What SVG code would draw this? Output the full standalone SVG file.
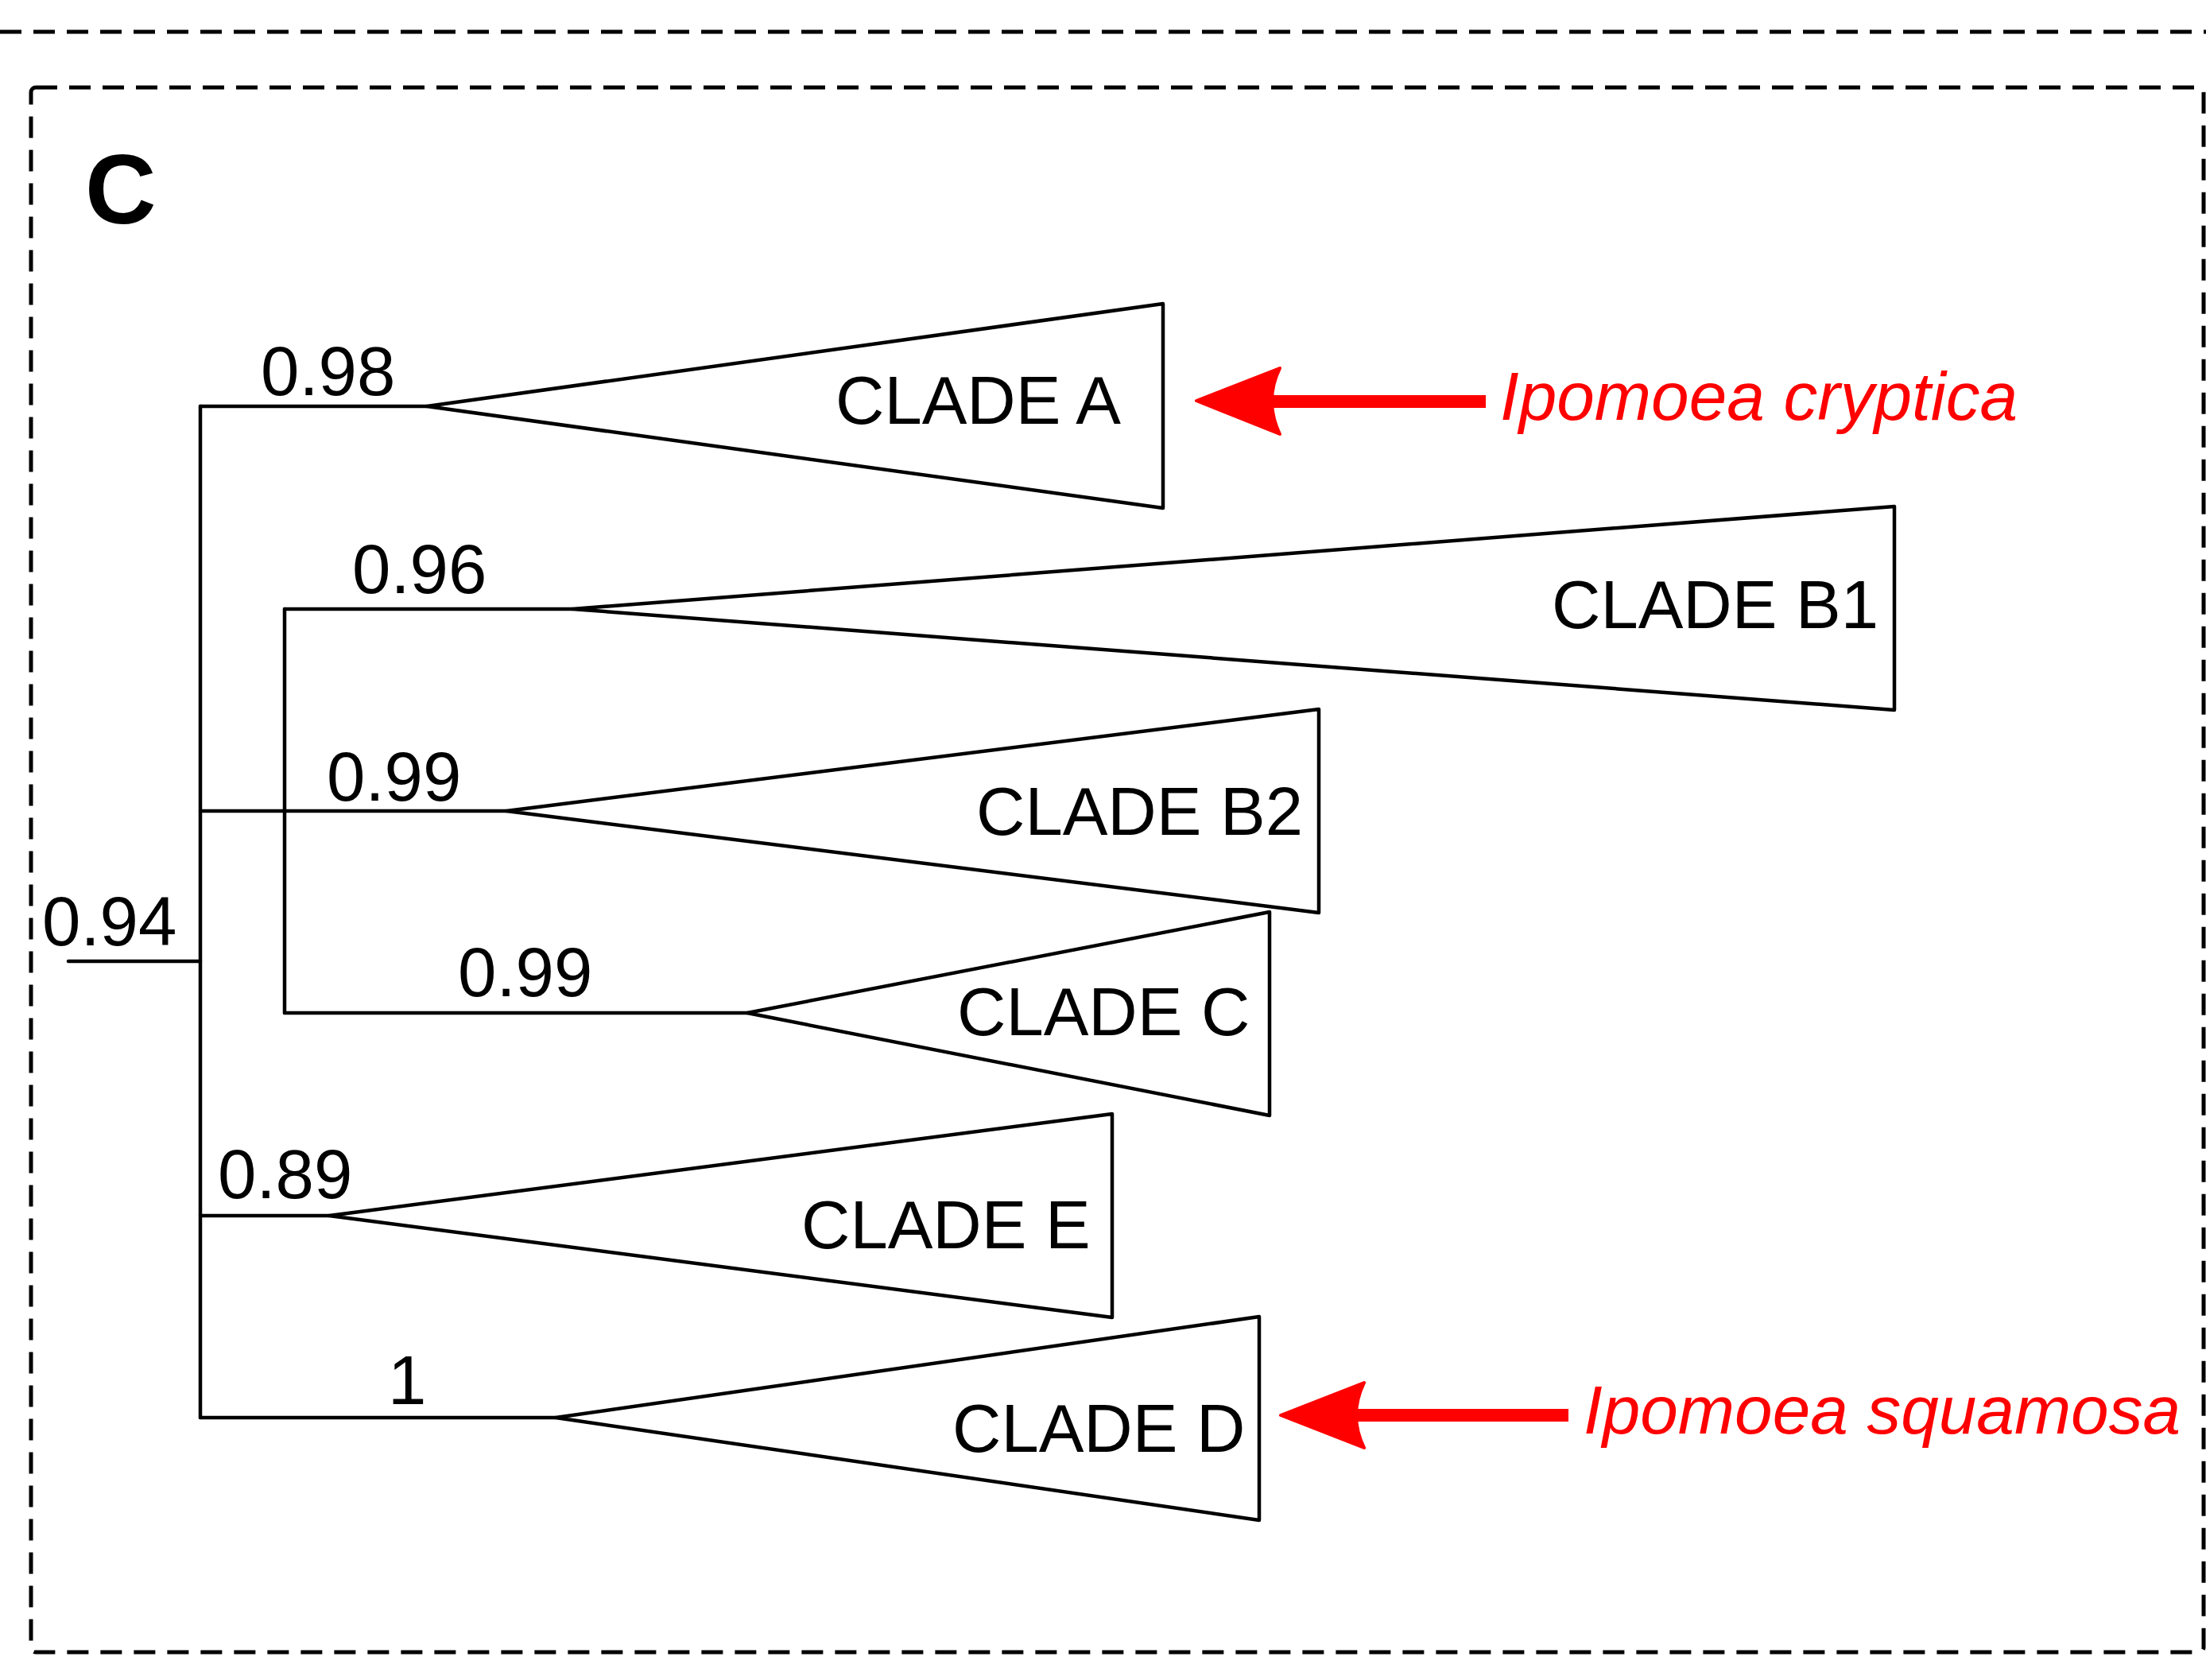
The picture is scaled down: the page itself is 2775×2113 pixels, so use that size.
<svg xmlns="http://www.w3.org/2000/svg" width="2775" height="2113" viewBox="0 0 2775 2113">
  <style>
    .frame { fill: none; stroke: #000; stroke-width: 5; stroke-dasharray: 27 15; }
    .branch { fill: none; stroke: #000; stroke-width: 4.5; stroke-linecap: round; stroke-linejoin: miter; }
    .clade { fill: #fff; stroke: #000; stroke-width: 4.5; stroke-linejoin: round; }
    .clade-label { font-family: "Liberation Sans", Arial, sans-serif; font-size: 85px; fill: #000; }
    .support { font-family: "Liberation Sans", Arial, sans-serif; font-size: 87px; fill: #000; }
    .panel { font-family: "Liberation Sans", Arial, sans-serif; font-size: 124px; font-weight: bold; fill: #000; }
    .species { font-family: "Liberation Sans", Arial, sans-serif; font-size: 85.5px; font-style: italic; fill: #ff0000; }
    .pointer { fill: #ff0000; stroke: #ff0000; stroke-width: 4; stroke-linejoin: round; }
  </style>

  <rect width="2775" height="2113" fill="#fff"/>

  <!-- panel frames -->
  <line class="frame" x1="0" y1="40" x2="2775" y2="40"/>
  <rect class="frame" x="39" y="110" width="2733" height="1968" rx="6"/>

  <text class="panel" x="107" y="281">C</text>

  <!-- tree branches -->
  <g id="connectors">
    <path class="branch" d="M86 1209 H252" stroke-width="5.5"/>
    <path class="branch" d="M252 511 V1783"/>
    <path class="branch" d="M252 511 H537"/>
    <path class="branch" d="M358 766 V1274"/>
    <path class="branch" d="M358 766 H720"/>
    <path class="branch" d="M252 1020 H637"/>
    <path class="branch" d="M358 1274 H940"/>
    <path class="branch" d="M252 1529 H414"/>
    <path class="branch" d="M252 1783 H699"/>
  </g>

  <!-- support values -->
  <g id="support-values">
    <text class="support" x="53" y="1189">0.94</text>
    <text class="support" x="328" y="497">0.98</text>
    <text class="support" x="443" y="746">0.96</text>
    <text class="support" x="411" y="1007">0.99</text>
    <text class="support" x="576" y="1253">0.99</text>
    <text class="support" x="274" y="1507">0.89</text>
    <text class="support" x="488" y="1766">1</text>
  </g>

  <!-- collapsed clades -->
  <g id="clade-a">
    <polygon class="clade" points="537,511 1463,382 1463,639"/>
    <text class="clade-label" x="1051" y="533">CLADE A</text>
  </g>
  <g id="clade-b1">
    <polygon class="clade" points="720,766 2383,637 2383,893"/>
    <text class="clade-label" x="1952" y="790">CLADE B1</text>
  </g>
  <g id="clade-b2">
    <polygon class="clade" points="637,1020 1659,892 1659,1148"/>
    <text class="clade-label" x="1228" y="1050">CLADE B2</text>
  </g>
  <g id="clade-c">
    <polygon class="clade" points="940,1274 1597,1147 1597,1403"/>
    <text class="clade-label" x="1204" y="1302">CLADE C</text>
  </g>
  <g id="clade-e">
    <polygon class="clade" points="414,1529 1399,1401 1399,1657"/>
    <text class="clade-label" x="1008" y="1570">CLADE E</text>
  </g>
  <g id="clade-d">
    <polygon class="clade" points="699,1783 1584,1656 1584,1912"/>
    <text class="clade-label" x="1198" y="1826">CLADE D</text>
  </g>

  <!-- species pointers -->
  <g id="pointer-cryptica">
    <rect x="1598" y="497" width="271" height="16" fill="#ff0000"/>
    <path class="pointer" d="M1505 504 L1610 463 Q1590 504 1610 546 Z"/>
    <text class="species" x="1887" y="528">Ipomoea cryptica</text>
  </g>
  <g id="pointer-squamosa">
    <rect x="1704" y="1772" width="269" height="16" fill="#ff0000"/>
    <path class="pointer" d="M1611 1780 L1716 1739 Q1696 1780 1716 1821 Z"/>
    <text class="species" x="1992" y="1803">Ipomoea squamosa</text>
  </g>
</svg>
